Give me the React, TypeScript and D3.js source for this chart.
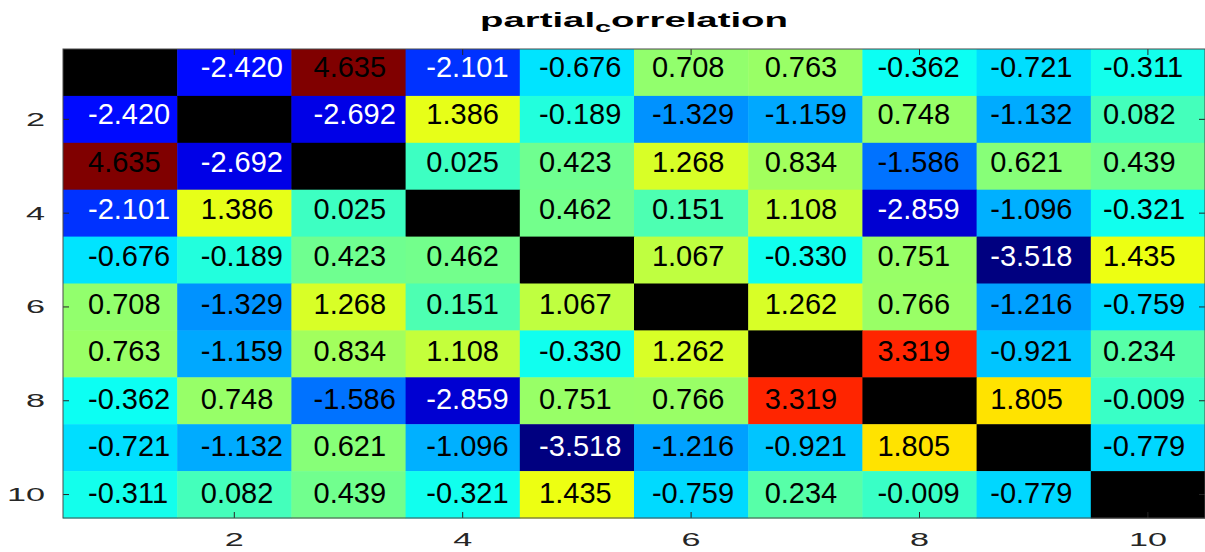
import React from "react";
import * as d3 from "d3";

const W = 1205;
const H = 552;

const rowLabels = [1, 2, 3, 4, 5, 6, 7, 8, 9, 10];
const colLabels = [1, 2, 3, 4, 5, 6, 7, 8, 9, 10];
const xTickValues = [2, 4, 6, 8, 10];
const yTickValues = [2, 4, 6, 8, 10];

const row1 = [NaN, -2.42, 4.635, -2.101, -0.676, 0.708, 0.763, -0.362, -0.721, -0.311];
const row2 = [-2.42, NaN, -2.692, 1.386, -0.189, -1.329, -1.159, 0.748, -1.132, 0.082];
const row3 = [4.635, -2.692, NaN, 0.025, 0.423, 1.268, 0.834, -1.586, 0.621, 0.439];
const row4 = [-2.101, 1.386, 0.025, NaN, 0.462, 0.151, 1.108, -2.859, -1.096, -0.321];
const row5 = [-0.676, -0.189, 0.423, 0.462, NaN, 1.067, -0.33, 0.751, -3.518, 1.435];
const row6 = [0.708, -1.329, 1.268, 0.151, 1.067, NaN, 1.262, 0.766, -1.216, -0.759];
const row7 = [0.763, -1.159, 0.834, 1.108, -0.33, 1.262, NaN, 3.319, -0.921, 0.234];
const row8 = [-0.362, 0.748, -1.586, -2.859, 0.751, 0.766, 3.319, NaN, 1.805, -0.009];
const row9 = [-0.721, -1.132, 0.621, -1.096, -3.518, -1.216, -0.921, 1.805, NaN, -0.779];
const row10 = [-0.311, 0.082, 0.439, -0.321, 1.435, -0.759, 0.234, -0.009, -0.779, NaN];
const matrix = [row1, row2, row3, row4, row5, row6, row7, row8, row9, row10];

function jet(t: number): string {
  const c = (v: number) => Math.max(0, Math.min(1, v));
  const r = c(Math.min(4 * t - 1.5, -4 * t + 4.5));
  const g = c(Math.min(4 * t - 0.5, -4 * t + 3.5));
  const b = c(Math.min(4 * t + 0.5, -4 * t + 2.5));
  return d3.rgb(r * 255, g * 255, b * 255).formatHex();
}

const left = 63;
const right = 1205;
const top = 49;
const bottom = 518;

export default function App() {
  const x = d3.scaleLinear().domain([0.5, 10.5]).range([left, right]);
  const y = d3.scaleLinear().domain([0.5, 10.5]).range([top, bottom]);
  const tx = d3.scaleLinear().domain([1, 10]).range([88, 1103]);
  const ty = d3.scaleLinear().domain([1, 10]).range([66.5, 493]);
  const flat = matrix.flat().filter((v) => !isNaN(v));
  const ext = d3.extent(flat) as [number, number];
  const color = d3.scaleSequential(jet).domain(ext);
  const fmt = d3.format(".3f");
  const fontSize = 29;

  const cells: React.ReactNode[] = [];
  const texts: React.ReactNode[] = [];
  rowLabels.forEach((r, i) => {
    colLabels.forEach((c, j) => {
      const v = matrix[i][j];
      const x0 = x(c - 0.5);
      const x1 = x(c + 0.5);
      const y0 = y(r - 0.5);
      const y1 = y(r + 0.5);
      cells.push(
        <rect
          key={`c${i}-${j}`}
          x={x0}
          y={y0}
          width={x1 - x0 + 0.5}
          height={y1 - y0 + 0.5}
          fill={isNaN(v) ? "#000000" : color(v)}
        />
      );
      if (!isNaN(v)) {
        texts.push(
          <text
            key={`t${i}-${j}`}
            x={tx(c)}
            y={ty(r) + fontSize * 0.358}
            fontSize={fontSize}
            fontFamily="'Liberation Sans', Arial, Helvetica, sans-serif"
            fill={v < -2 ? "#ffffff" : "#000000"}
          >
            {v.toFixed(3) === fmt(v) ? fmt(v) : v.toFixed(3)}
          </text>
        );
      }
    });
  });

  const tickColor = "#262626";
  const tickLen = 6;
  const labelFont = "'Liberation Sans', Arial, Helvetica, sans-serif";

  return (
    <svg
      width={W}
      height={H}
      style={{ position: "absolute", left: 0, top: 0, background: "#ffffff" }}
    >
      <rect x={0} y={0} width={W} height={H} fill="#ffffff" />
      {cells}
      {texts}
      {xTickValues.map((t) => (
        <g key={`xt${t}`}>
          <line x1={x(t)} x2={x(t)} y1={bottom} y2={bottom - tickLen} stroke={tickColor} strokeWidth={1} />
          <line x1={x(t)} x2={x(t)} y1={top} y2={top + tickLen} stroke={tickColor} strokeWidth={1} />
          <g transform={`translate(${x(t)},${546}) scale(1.9,1)`}>
            <text textAnchor="middle" fontSize={18} fontFamily={labelFont} fill={tickColor}>
              {t}
            </text>
          </g>
        </g>
      ))}
      {yTickValues.map((t) => (
        <g key={`yt${t}`}>
          <line x1={left} x2={left + tickLen} y1={y(t)} y2={y(t)} stroke={tickColor} strokeWidth={1} />
          <line x1={right} x2={right - tickLen} y1={y(t)} y2={y(t)} stroke={tickColor} strokeWidth={1} />
          <g transform={`translate(${45},${y(t) + 6.5}) scale(1.9,1)`}>
            <text textAnchor="end" fontSize={18} fontFamily={labelFont} fill={tickColor}>
              {t}
            </text>
          </g>
        </g>
      ))}
      <rect
        x={left}
        y={top}
        width={right - left}
        height={bottom - top}
        fill="none"
        stroke="#4a4a4a"
        strokeWidth={1}
      />
      <text
        x={(left + right) / 2}
        y={27}
        textAnchor="middle"
        fontSize={20}
        fontWeight="bold"
        fontFamily={labelFont}
        fill="#000000"
        textLength={308}
        lengthAdjust="spacingAndGlyphs"
      >
        partial
        <tspan fontSize={15} dy={5}>
          c
        </tspan>
        <tspan dy={-5}>orrelation</tspan>
      </text>
    </svg>
  );
}
